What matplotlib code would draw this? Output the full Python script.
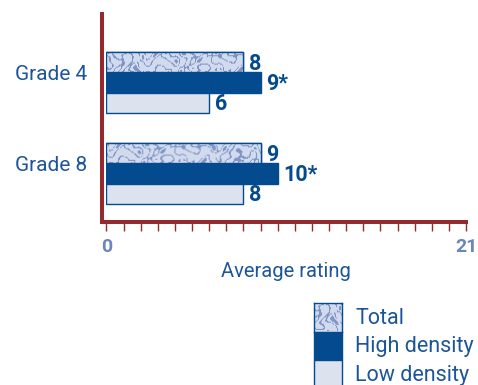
import numpy as np
import matplotlib
matplotlib.use("Agg")
import matplotlib.pyplot as plt
from matplotlib.patches import Rectangle

# --- data -------------------------------------------------------------
grades = ["Grade 4", "Grade 8"]
series = ["Total", "High density", "Low density"]
total = [8, 9]
high = [9, 10]
low = [6, 8]
value_labels = {
    "Total": ["8", "9"],
    "High density": ["9*", "10*"],
    "Low density": ["6", "8"],
}
x_max = 21

# --- style ------------------------------------------------------------
RED = "#952a2e"
DARK = "#044a8e"
TEXT = "#1c5599"
TICKTXT = "#6b86bc"
LIGHT = "#dde2ef"
TEX_BG = "#d2dbee"
TEX_FG = "#8095c6"
plt.rcParams["font.family"] = ["Roboto", "DejaVu Sans"]

FIG_W, FIG_H = 478, 385
AX_RECT = [0.2228, 0.4234, 0.7521, 0.5403]


def squiggle_texture(w, h, x_off=0.0):
    """Organic squiggle pattern built from overlapping waves (pixel units)."""
    yy, xx = np.mgrid[0:h, 0:w].astype(float)
    xx = xx + x_off
    f = (np.sin(0.42 * xx + 2.2 * np.sin(0.30 * yy + 0.11 * xx))
         + np.sin(0.38 * yy + 1.8 * np.cos(0.23 * xx))
         + 0.9 * np.sin(0.25 * (xx - yy) + 2.4 * np.sin(0.17 * xx)))
    lines = np.abs(f) < 0.36
    blobs = f > 1.95
    img = np.empty((h, w, 3))
    img[:] = matplotlib.colors.to_rgb(TEX_BG)
    fg = np.array(matplotlib.colors.to_rgb(TEX_FG))
    img[lines | blobs] = fg
    return img


fig = plt.figure(figsize=(FIG_W / 100, FIG_H / 100), dpi=100)
ax = fig.add_axes(AX_RECT)

h = 0.223
pos = np.arange(len(grades))

bars_t = ax.barh(pos - h, total, height=h, color=TEX_BG, edgecolor=DARK,
                 linewidth=1.0, zorder=2)
bars_h = ax.barh(pos, high, height=h, color=DARK, edgecolor=DARK,
                 linewidth=1.0, zorder=2)
bars_l = ax.barh(pos + h, low, height=h, color=LIGHT, edgecolor=DARK,
                 linewidth=1.0, zorder=2)

px_per_unit = AX_RECT[2] * FIG_W / x_max
for i, r in enumerate(bars_t):
    x0, y0 = r.get_x(), r.get_y()
    tex = squiggle_texture(max(int(round(r.get_width() * px_per_unit)), 1), 20,
                           x_off=37.0 * i)
    im = ax.imshow(tex, extent=(x0, x0 + r.get_width(), y0 + r.get_height(), y0),
                   aspect="auto", interpolation="bilinear", zorder=2.5)
    im.set_clip_path(r)
    ax.add_patch(Rectangle((x0, y0), r.get_width(), r.get_height(),
                           fill=False, edgecolor=DARK, linewidth=1.0, zorder=3))

for name, bars in zip(series, [bars_t, bars_h, bars_l]):
    for r, lab in zip(bars, value_labels[name]):
        ax.annotate(lab, (r.get_width(), r.get_y() + r.get_height() / 2),
                    xytext=(4, -1), textcoords="offset points",
                    ha="left", va="center", fontsize=15.5, fontweight="bold",
                    color=DARK, zorder=4)

ax.set_xlim(0, x_max)
ax.set_ylim(1.533, -0.753)

# axes frame
for s in ["top", "right"]:
    ax.spines[s].set_visible(False)
ax.spines["left"].set_color(RED)
ax.spines["left"].set_linewidth(2.9)
ax.spines["left"].set_position(("outward", 3))
ax.spines["bottom"].set_color(RED)
ax.spines["bottom"].set_linewidth(2.9)
ax.spines["bottom"].set_bounds(-0.25, x_max)

ax.set_xticks(np.arange(0, x_max + 1))
ax.set_xticklabels(["0"] + [""] * (x_max - 1) + [str(x_max)])
ax.tick_params(axis="x", direction="out", length=6.5, width=1.0, color=RED,
               pad=5, labelsize=14, labelcolor=TICKTXT)
for t in ax.get_xticklabels():
    t.set_fontweight("bold")

ax.set_yticks(pos - h / 2)
ax.set_yticklabels(grades)
ax.tick_params(axis="y", length=0, pad=11, labelsize=15, labelcolor=TEXT)

ax.set_xlabel("Average rating", fontsize=14.5, color=TEXT, labelpad=4)

# legend, built as a stack of swatches
lx, lw, lh = 314 / FIG_W, 28 / FIG_W, 28.5 / FIG_H
tops = [303, 331.5, 360]
for name, top in zip(series, tops):
    y = 1 - (top + 28.5) / FIG_H
    if name == "Total":
        lax = fig.add_axes([lx, y, lw, lh])
        lax.imshow(squiggle_texture(28, 28, x_off=11.0), aspect="auto",
                   interpolation="bilinear")
        lax.set_xticks([]); lax.set_yticks([])
        for sp in lax.spines.values():
            sp.set_color(DARK); sp.set_linewidth(1.0)
    else:
        fc = DARK if name == "High density" else LIGHT
        fig.patches.append(Rectangle((lx, y), lw, lh, transform=fig.transFigure,
                                     facecolor=fc, edgecolor=DARK, linewidth=1.0))
    fig.text(355 / FIG_W, 1 - (top + 15) / FIG_H, name, fontsize=15.5, color=TEXT,
             ha="left", va="center")

fig.savefig("out.png", dpi=100)
